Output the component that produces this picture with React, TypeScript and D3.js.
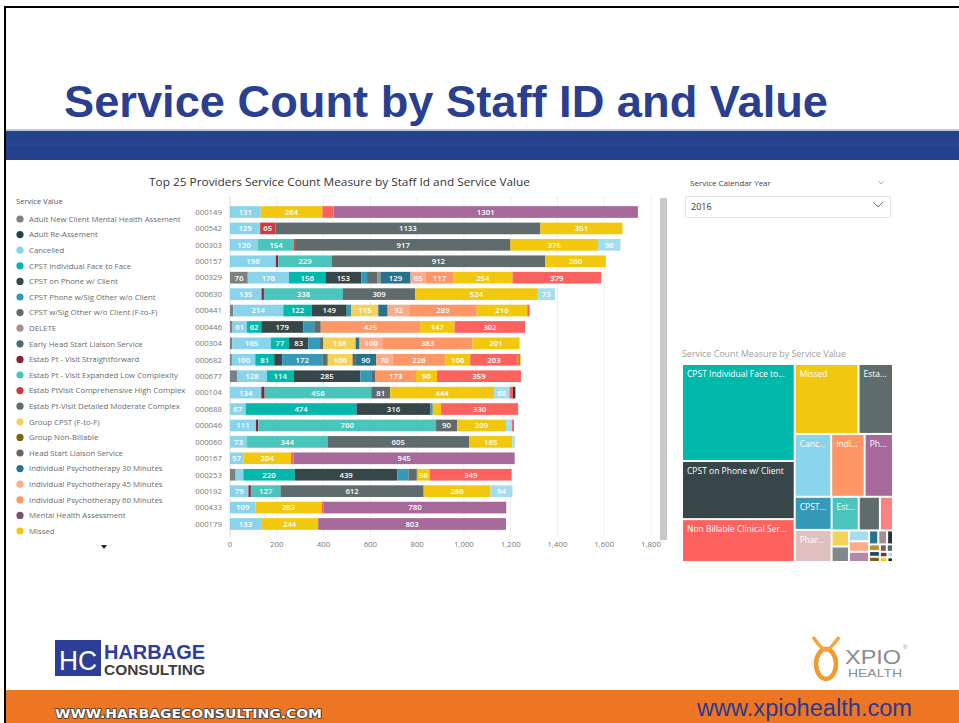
import React from 'react';
import * as d3 from 'd3';

const FONT = "'Open Sans', 'Noto Sans', sans-serif";
const ARIAL = "'Liberation Sans', Arial, sans-serif";

const staffIds = [
  '000149', '000542', '000303', '000157', '000329', '000630', '000441', '000446', '000304', '000682',
  '000677', '000104', '000688', '000046', '000060', '000167', '000253', '000192', '000433', '000179',
];

const seriesNames = [
  'Adult New Client Mental Health Assement',
  'Adult Re-Assement',
  'Cancelled',
  'CPST Individual Face to Face',
  'CPST on Phone w/ Client',
  'CPST Phone w/Sig Other w/o Client',
  'CPST w/Sig Other w/o Client (F-to-F)',
  'DELETE',
  'Early Head Start Liaison Service',
  'Estab Pt - Visit Straightforward',
  'Estab Pt - Visit Expanded Low Complexity',
  'Estab PtVisit Comprehensive High Complex',
  'Estab Pt-Visit Detailed Moderate Complex',
  'Group CPST (F-to-F)',
  'Group Non-Billable',
  'Head Start Liaison Service',
  'Individual Psychotherapy 30 Minutes',
  'Individual Psychotherapy 45 Minutes',
  'Individual Psychotherapy 60 Minutes',
  'Mental Health Assessment',
  'Missed',
  'No Show',
  'Non Billable Clinical Service',
  'Pharmacological Management',
  'Physician Services',
  'Psychiatric Evaluation',
  'Team Meeting',
];

const seriesColors = [
  '#7A8283', '#1C4657', '#8AD4EB', '#01B8AA', '#374649', '#3599B8', '#5F6B6D', '#A78F8F',
  '#476A75', '#8B2232', '#4AC5BB', '#D0393F', '#5F6B6D', '#F4D25A', '#796419', '#706060',
  '#28738A', '#FDAB89', '#FE9666', '#7B4F71', '#F2C80F', '#A4DDEE', '#FD625E', '#DFBFBF',
  '#A66999', '#B59525', '#293537',
];

const legendCount = 21;

// [series index, service count] per staff, in the order
const staffSegments: [number, number][][] = [
  [[2, 131], [20, 264], [22, 48], [24, 1301]],
  [[2, 129], [11, 65], [12, 1133], [20, 351]],
  [[2, 120], [10, 154], [11, 8], [12, 917], [20, 375], [21, 96]],
  [[2, 196], [9, 10], [10, 229], [12, 912], [20, 260]],
  [[0, 76], [2, 176], [3, 156], [4, 153], [5, 25], [6, 45], [7, 12], [16, 129], [17, 65], [18, 117], [20, 254], [22, 379]],
  [[2, 135], [9, 10], [10, 338], [12, 309], [20, 524], [21, 73]],
  [[0, 14], [2, 214], [3, 122], [4, 149], [5, 20], [13, 115], [16, 40], [17, 92], [18, 289], [20, 216], [22, 10]],
  [[0, 11], [2, 61], [3, 62], [4, 179], [5, 47], [6, 28], [18, 425], [20, 147], [22, 302]],
  [[0, 10], [2, 165], [3, 77], [4, 83], [5, 50], [6, 14], [13, 138], [16, 17], [17, 100], [18, 383], [20, 201]],
  [[0, 8], [2, 100], [3, 81], [4, 34], [5, 172], [6, 23], [13, 106], [15, 11], [16, 90], [17, 70], [18, 226], [20, 106], [22, 203], [25, 12]],
  [[0, 30], [2, 128], [3, 114], [4, 285], [5, 50], [6, 15], [18, 173], [20, 90], [22, 359]],
  [[2, 134], [9, 14], [10, 456], [12, 81], [20, 444], [21, 66], [22, 15], [26, 10]],
  [[2, 67], [3, 474], [4, 316], [5, 10], [20, 35], [22, 330]],
  [[2, 111], [9, 10], [10, 760], [12, 90], [20, 209], [21, 25], [22, 9]],
  [[2, 73], [10, 344], [12, 605], [20, 185], [21, 11]],
  [[2, 57], [20, 204], [22, 11], [24, 945]],
  [[0, 24], [2, 33], [3, 220], [4, 439], [5, 47], [6, 36], [20, 56], [22, 349]],
  [[2, 79], [9, 10], [10, 127], [12, 612], [20, 286], [21, 94]],
  [[2, 109], [20, 283], [22, 9], [24, 780]],
  [[2, 133], [20, 244], [24, 803]],
];

const xTicks = [0, 200, 400, 600, 800, 1000, 1200, 1400, 1600, 1800];

// treemap: Service Count Measure by Service Value
const tmNames = [
  'CPST Individual Face to Face', 'CPST on Phone w/ Client', 'Non Billable Clinical Service', 'Missed',
  'Estab Pt-Visit Detailed Moderate Complex', 'Cancelled', 'Individual Psychotherapy 60 Minutes', 'Physician Services',
  'CPST Phone w/Sig Other w/o Client', 'Pharmacological Management', 'Estab Pt - Visit Expanded Low Complexity',
  'CPST w/Sig Other w/o Client (F-to-F)', 'Estab PtVisit Comprehensive High Complex', 'Group CPST (F-to-F)',
  'Adult New Client Mental Health Assement', 'No Show', 'Individual Psychotherapy 45 Minutes', 'Mental Health Assessment',
  'Individual Psychotherapy 30 Minutes', 'DELETE', 'Team Meeting', 'Psychiatric Evaluation', 'Adult Re-Assement',
  'Group Non-Billable', 'Head Start Liaison Service', 'Early Head Start Liaison Service', 'Estab Pt - Visit Straightforward',
  'Other A', 'Other B', 'Other C',
];
const tmValues = [
  10640, 6384, 4704, 4347, 2346, 2232, 2046, 1736, 1188, 1152, 891, 693, 429, 272, 262, 212, 206, 200,
  125, 120, 80, 70, 60, 55, 50, 45, 40, 35, 30, 25,
];
const tmColors = [
  '#01B8AA', '#374649', '#FD625E', '#F2C80F', '#5F6B6D', '#8AD4EB', '#FE9666', '#A66999', '#3599B8', '#DFBFBF',
  '#4AC5BB', '#5F6B6D', '#FB8281', '#F4D25A', '#7F898A', '#A4DDEE', '#FDAB89', '#B687AC', '#28738A', '#A78F8F',
  '#293537', '#B59525', '#1B4D5C', '#796419', '#706060', '#476A75', '#7D3231', '#F2C80F', '#A4DDEE', '#1C2325',
];
const tmLabels = [
  'CPST Individual Face to...', 'CPST on Phone w/ Client', 'Non Billable Clinical Ser...', 'Missed', 'Esta...',
  'Canc...', 'Indi...', 'Ph...', 'CPST...', 'Phar...', 'Est...',
];

export default function App() {
  const x = d3.scaleLinear().domain([0, 1800]).range([230, 651]);
  const y = d3
    .scaleBand<string>()
    .domain(staffIds)
    .range([203.8, 532.2])
    .paddingInner(0.29)
    .paddingOuter(0.145);

  const rows = staffSegments.map((segs) => {
    const o: Record<number, number> = {};
    segs.forEach(([k, v]) => (o[k] = v));
    return o;
  });
  const keys = seriesNames.map((_, i) => i);
  const stacked = d3
    .stack<Record<number, number>, number>()
    .keys(keys)
    .value((d, k) => d[k] || 0)(rows);

  const tmRoot = d3
    .hierarchy<any>({
      children: tmNames.map((n, i) => ({ name: n, value: tmValues[i], color: tmColors[i], label: tmLabels[i] || '' })),
    })
    .sum((d: any) => d.value || 0)
    .sort((a: any, b: any) => b.value - a.value);
  d3.treemap<any>().size([209, 196]).paddingInner(2).tile(d3.treemapSquarify)(tmRoot);
  const tmX = 683;
  const tmY = 365;
  const leaves = tmRoot.leaves() as any[];

  const fmt = d3.format(',');

  return (
    <div style={{ position: 'absolute', left: 0, top: 0 }}>
      <svg width={959} height={723} style={{ display: 'block', background: '#fff' }}>
        <rect x={0} y={0} width={959} height={723} fill="#fff" />
        {/* slide frame */}
        <rect x={5} y={7} width={960} height={720} fill="none" stroke="#000" strokeWidth={2} />

        {/* header */}
        <text x={64} y={117} fontFamily={ARIAL} fontWeight="bold" fontSize={45} fill="#2A3F8F" textLength={764} lengthAdjust="spacingAndGlyphs">
          Service Count by Staff ID and Value
        </text>
        <rect x={6} y={129} width={953} height={2} fill="#BCCBE6" />
        <rect x={6} y={131} width={953} height={29} fill="#24418E" />
        <rect x={6} y={140} width={953} height={6} fill="#2B4994" opacity={0.5} />

        {/* chart title */}
        <text x={149} y={186} fontFamily={FONT} fontSize={11} fill="#333" textLength={381} lengthAdjust="spacingAndGlyphs">
          Top 25 Providers Service Count Measure by Staff Id and Service Value
        </text>

        {/* legend */}
        <text x={16} y={204} fontFamily={FONT} fontSize={7.6} fill="#555">
          Service Value
        </text>
        {seriesNames.slice(0, legendCount).map((n, i) => {
          const cy = 219 + i * 15.6;
          return (
            <g key={n}>
              <circle cx={20} cy={cy} r={3.6} fill={seriesColors[i]} />
              <text x={29} y={cy + 2.7} fontFamily={FONT} fontSize={7.8} fill="#6a6a6a">
                {n}
              </text>
            </g>
          );
        })}
        <path d="M101,545 L107,545 L104,549 Z" fill="#222" />

        {/* grid */}
        {xTicks.map((t) => (
          <line key={t} x1={x(t)} x2={x(t)} y1={196} y2={537} stroke={t === 0 ? '#d8d8d8' : '#efefef'} strokeWidth={1} />
        ))}
        {xTicks.map((t) => (
          <text key={'t' + t} x={x(t)} y={547} textAnchor="middle" fontFamily={FONT} fontSize={7.8} fill="#777">
            {fmt(t)}
          </text>
        ))}

        {/* y labels */}
        {staffIds.map((id) => (
          <text key={id} x={222} y={(y(id) as number) + y.bandwidth() / 2 + 2.8} textAnchor="end" fontFamily={FONT} fontSize={7.8} fill="#777">
            {id}
          </text>
        ))}

        {/* bars */}
        {stacked.map((s) => (
          <g key={s.key} fill={seriesColors[s.key]}>
            {s.map((d, i) => {
              const v = d[1] - d[0];
              if (v <= 0) return null;
              return (
                <rect key={i} x={x(d[0])} y={y(staffIds[i]) as number} width={x(d[1]) - x(d[0])} height={y.bandwidth()} />
              );
            })}
          </g>
        ))}
        {stacked.map((s) => (
          <g key={'l' + s.key}>
            {s.map((d, i) => {
              const v = d[1] - d[0];
              if (v < 56) return null;
              return (
                <text
                  key={i}
                  x={(x(d[0]) + x(d[1])) / 2}
                  y={(y(staffIds[i]) as number) + y.bandwidth() / 2 + 2.9}
                  textAnchor="middle"
                  fontFamily={FONT}
                  fontWeight={600}
                  fontSize={7.8}
                  fill="#fff"
                >
                  {v}
                </text>
              );
            })}
          </g>
        ))}

        {/* scrollbar */}
        <rect x={660} y={198} width={7} height={342} fill="#c8c8c8" />

        {/* slicer */}
        <text x={690} y={186} fontFamily={FONT} fontSize={8} fill="#444">
          Service Calendar Year
        </text>
        <path d="M878,181 L881,184 L884,181" fill="none" stroke="#aaa" strokeWidth={0.9} />
        <rect x={685.5} y={196.5} width={205} height={21} fill="none" stroke="#e6e6e6" />
        <text x={691} y={210} fontFamily={FONT} fontSize={9} fill="#333">
          2016
        </text>
        <path d="M873,202 L878,207 L883,202" fill="none" stroke="#777" strokeWidth={1} />

        {/* treemap */}
        <text x={682} y={357} fontFamily={FONT} fontSize={8.6} fill="#a0a0a0" textLength={164} lengthAdjust="spacingAndGlyphs">
          Service Count Measure by Service Value
        </text>
        {leaves.map((l, i) => (
          <rect key={i} x={tmX + l.x0} y={tmY + l.y0} width={Math.max(0, l.x1 - l.x0)} height={Math.max(0, l.y1 - l.y0)} fill={l.data.color} />
        ))}
        {leaves.map((l, i) =>
          l.data.label ? (
            <text key={'tl' + i} x={tmX + l.x0 + 4} y={tmY + l.y0 + 12} fontFamily={FONT} fontSize={8.5} fill="#fff">
              {l.data.label}
            </text>
          ) : null
        )}

        {/* HC logo */}
        <rect x={55} y={640} width={46} height={36} fill="#2D3E98" />
        <text x={78} y={670} textAnchor="middle" fontFamily={ARIAL} fontSize={28} fill="#fff" textLength={38} lengthAdjust="spacingAndGlyphs">
          HC
        </text>
        <text x={104} y={659} fontFamily={ARIAL} fontWeight="bold" fontSize={21} fill="#2D3E98" textLength={101} lengthAdjust="spacingAndGlyphs">
          HARBAGE
        </text>
        <text x={104} y={675} fontFamily={ARIAL} fontWeight="bold" fontSize={14} fill="#3d3d3d" textLength={101} lengthAdjust="spacingAndGlyphs">
          CONSULTING
        </text>

        {/* XPIO logo */}
        <ellipse cx={826} cy={664} rx={10} ry={15} fill="none" stroke="#F29A2E" strokeWidth={4.5} />
        <path d="M813,637 Q822,650 826,650 Q830,650 839,637" fill="none" stroke="#F5A53A" strokeWidth={3.5} />
        <text x={845} y={664} fontFamily={ARIAL} fontSize={21} fill="#8C8C8C" textLength={56} lengthAdjust="spacingAndGlyphs">
          XPIO
        </text>
        <text x={903} y={649} fontFamily={ARIAL} fontSize={6} fill="#8C8C8C">
          ®
        </text>
        <text x={848} y={677} fontFamily={ARIAL} fontSize={11} fill="#8C8C8C" textLength={54} lengthAdjust="spacingAndGlyphs">
          HEALTH
        </text>

        {/* footer */}
        <rect x={6} y={690} width={953} height={33} fill="#EE7623" />
        <text
          x={55}
          y={718}
          fontFamily="'DejaVu Sans', sans-serif"
          fontWeight="bold"
          fontSize={12.5}
          fill="#fff"
          stroke="#3b3b3b"
          strokeWidth={1.6}
          style={{ paintOrder: 'stroke' }}
          textLength={267}
          lengthAdjust="spacingAndGlyphs"
        >
          WWW.HARBAGECONSULTING.COM
        </text>
        <text x={697} y={716} fontFamily={ARIAL} fontSize={23} fill="#2B3990" textLength={215} lengthAdjust="spacingAndGlyphs">
          www.xpiohealth.com
        </text>
      </svg>
    </div>
  );
}
